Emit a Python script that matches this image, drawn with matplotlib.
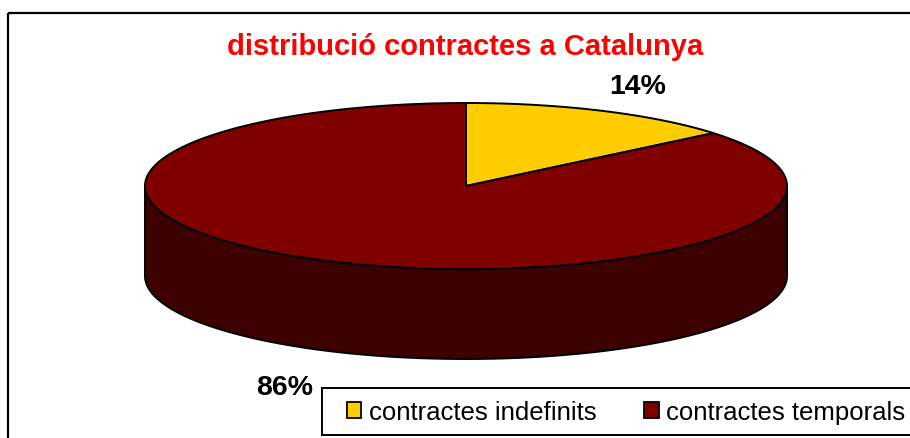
import numpy as np
import matplotlib.pyplot as plt
from matplotlib.patches import Polygon, Rectangle, Patch

# Data
title = 'distribució contractes a Catalunya'
categories = ['contractes indefinits', 'contractes temporals']
values = [14, 86]
pct_labels = ['14%', '86%']
colors = ['#FFCC00', '#800000']
side_colors = ['#7F6600', '#3C0000']

# Pie geometry in pixel coordinates
cx, cy = 466, 187
rx, ry = 321, 83
depth = 90


def ell(t):
    # t in degrees, clockwise from 12 o'clock
    r = np.radians(t)
    return cx + rx * np.sin(r), cy - ry * np.cos(r)


fig = plt.figure(figsize=(9.1, 4.39), dpi=100)
ax = fig.add_axes([0, 0, 1, 1])
ax.set_xlim(0, 910)
ax.set_ylim(439, 0)
ax.axis('off')

# outer frame
ax.add_patch(Rectangle((8, 14), 1000, 1000, fill=False, ec='black', lw=1.6))

fracs = np.array(values) / sum(values)
bounds = np.concatenate([[0], np.cumsum(fracs) * 360])

# side walls (front half only: 90..270)
for i in range(len(values)):
    a0, a1 = max(bounds[i], 90), min(bounds[i + 1], 270)
    if a1 <= a0:
        continue
    t = np.linspace(a0, a1, 200)
    x, y = ell(t)
    pts = np.column_stack([np.concatenate([x, x[::-1]]),
                           np.concatenate([y, y[::-1] + depth])])
    ax.add_patch(Polygon(pts, closed=True, fc=side_colors[i], ec='black', lw=1.4))

# top faces
for i in range(len(values)):
    t = np.linspace(bounds[i], bounds[i + 1], 300)
    x, y = ell(t)
    pts = np.column_stack([np.concatenate([[cx], x]), np.concatenate([[cy], y])])
    ax.add_patch(Polygon(pts, closed=True, fc=colors[i], ec='black', lw=1.4,
                         joinstyle='round'))

ax.text(465, 47, title, color='#FF0000', fontsize=21, fontweight='bold',
        family='Liberation Sans', ha='center', va='center')
ax.text(638, 87, pct_labels[0], fontsize=20.5, fontweight='bold',
        family='Liberation Sans', ha='center', va='center')
ax.text(285, 388, pct_labels[1], fontsize=20.5, fontweight='bold',
        family='Liberation Sans', ha='center', va='center')

# legend box (runs past the right edge)
ax.add_patch(Rectangle((322, 389), 700, 47, fc='white', ec='black', lw=1.4,
                       zorder=4))
handles = [Patch(fc=c, ec='black', lw=1.3) for c in colors]
leg = ax.legend(handles, categories, ncol=2, loc='center left',
                bbox_to_anchor=(347 / 910, 1 - 413 / 439),
                prop={'family': 'Liberation Sans', 'size': 18.5},
                frameon=False, borderaxespad=0, borderpad=0,
                handlelength=0.56, handleheight=0.56,
                handletextpad=0.3, columnspacing=1.85)
leg.set_zorder(5)

fig.savefig('out.png', dpi=100)
